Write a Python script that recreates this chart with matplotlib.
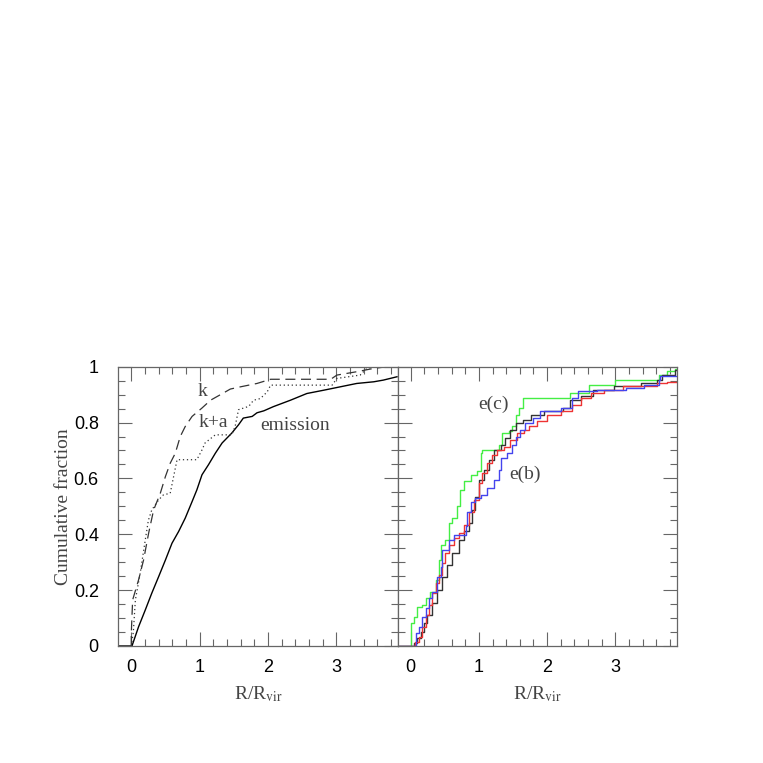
import matplotlib
matplotlib.use("Agg")
import matplotlib.pyplot as plt
from matplotlib.ticker import MultipleLocator, FixedLocator

# ---------------- data ----------------
# Left panel (cumulative fractions vs R/Rvir)
emis_x = [-0.19, 0.0, 0.01, 0.107, 0.205, 0.30, 0.40, 0.50, 0.596, 0.693, 0.79, 0.89, 0.96, 1.035,
          1.13, 1.23, 1.33, 1.47, 1.57, 1.64, 1.77, 1.84, 1.94, 2.08, 2.33, 2.57, 2.82, 3.06, 3.30,
          3.55, 3.69, 3.79, 3.89]
emis_y = [0, 0, 0.0, 0.069, 0.129, 0.189, 0.248, 0.308, 0.368, 0.41, 0.458, 0.517, 0.559, 0.613,
          0.649, 0.69, 0.727, 0.762, 0.792, 0.816, 0.822, 0.835, 0.842, 0.857, 0.88, 0.904, 0.916,
          0.928, 0.94, 0.946, 0.952, 0.958, 0.964]

k_x = [0.0, 0.0, 0.02, 0.107, 0.18, 0.254, 0.327, 0.425, 0.50, 0.571, 0.644, 0.717, 0.79, 0.89,
       1.035, 1.16, 1.35, 1.45, 1.6, 1.84, 2.04, 2.92, 3.01, 3.3, 3.55, 3.75, 3.9]
k_y = [0.0, 0.045, 0.165, 0.237, 0.308, 0.404, 0.487, 0.547, 0.607, 0.655, 0.69, 0.75, 0.786, 0.822,
       0.852, 0.88, 0.906, 0.92, 0.928, 0.94, 0.955, 0.955, 0.97, 0.982, 0.994, 1.0, 1.0]

ka_x = [0.0, 0.03, 0.06, 0.13, 0.205, 0.25, 0.30, 0.40, 0.47, 0.57, 0.62, 0.67, 0.96, 1.035, 1.08,
        1.23, 1.47, 1.52, 1.57, 1.72, 1.79, 1.89, 1.99, 2.04, 2.94, 3.01, 3.35, 3.45, 3.6, 3.9]
ka_y = [0, 0.05, 0.165, 0.26, 0.38, 0.45, 0.487, 0.523, 0.541, 0.547, 0.607, 0.667, 0.667, 0.702,
        0.727, 0.756, 0.756, 0.786, 0.846, 0.858, 0.88, 0.886, 0.91, 0.934, 0.934, 0.958, 0.97,
        0.994, 1.0, 1.0]

# Right panel (step curves)
green_x = [-0.19, 0.01, 0.05, 0.1, 0.17, 0.22, 0.29, 0.366, 0.415, 0.44, 0.51, 0.56, 0.61, 0.68,
           0.73, 0.78, 0.88, 0.976, 1.025, 1.05, 1.29, 1.34, 1.44, 1.49, 1.54, 1.59, 1.64, 2.34,
           2.61, 3.0, 3.64, 3.76, 3.88, 3.9]
green_y = [0, 0.081, 0.105, 0.141, 0.147, 0.171, 0.195, 0.237, 0.308, 0.362, 0.38, 0.44, 0.458, 0.5,
           0.559, 0.589, 0.613, 0.625, 0.69, 0.70, 0.72, 0.762, 0.77, 0.786, 0.828, 0.852, 0.888,
           0.906, 0.935, 0.953, 0.971, 0.983, 0.99, 0.99]

black_x = [-0.19, 0.05, 0.1, 0.146, 0.195, 0.244, 0.317, 0.39, 0.464, 0.537, 0.61, 0.707, 0.78,
           0.854, 0.9, 0.95, 1.0, 1.07, 1.146, 1.22, 1.32, 1.39, 1.46, 1.54, 1.64, 1.76, 1.95, 2.24,
           2.34, 2.49, 2.68, 2.98, 3.37, 3.61, 3.69, 3.88, 3.9]
black_y = [0, 0.01, 0.027, 0.051, 0.081, 0.111, 0.153, 0.2, 0.248, 0.29, 0.332, 0.38, 0.41, 0.44,
           0.487, 0.535, 0.595, 0.63, 0.667, 0.703, 0.72, 0.744, 0.774, 0.798, 0.81, 0.828, 0.84,
           0.852, 0.882, 0.894, 0.918, 0.93, 0.942, 0.953, 0.971, 0.989, 0.989]

red_x = [-0.19, 0.07, 0.12, 0.17, 0.22, 0.27, 0.317, 0.366, 0.415, 0.464, 0.51, 0.56, 0.634, 0.707,
         0.78, 0.85, 0.927, 1.0, 1.05, 1.12, 1.196, 1.27, 1.37, 1.46, 1.56, 1.66, 1.73, 1.85, 2.0,
         2.2, 2.37, 2.49, 2.64, 2.83, 3.12, 3.61, 3.76, 3.9]
red_y = [0, 0.015, 0.033, 0.069, 0.111, 0.147, 0.189, 0.225, 0.254, 0.296, 0.332, 0.362, 0.386,
         0.404, 0.434, 0.48, 0.523, 0.583, 0.619, 0.655, 0.685, 0.703, 0.714, 0.738, 0.762, 0.774,
         0.786, 0.804, 0.828, 0.84, 0.864, 0.888, 0.906, 0.918, 0.93, 0.942, 0.947, 0.947]

blue_x = [-0.19, 0.073, 0.12, 0.17, 0.22, 0.27, 0.317, 0.39, 0.44, 0.464, 0.56, 0.634, 0.805, 0.83,
          0.88, 0.95, 1.025, 1.12, 1.22, 1.29, 1.32, 1.415, 1.49, 1.54, 1.61, 1.68, 1.8, 1.9, 2.2,
          2.37, 2.46, 2.73, 3.15, 3.42, 3.64, 3.66, 3.9]
blue_y = [0, 0.045, 0.069, 0.105, 0.135, 0.171, 0.195, 0.248, 0.284, 0.344, 0.38, 0.398, 0.428,
          0.481, 0.517, 0.529, 0.541, 0.565, 0.595, 0.631, 0.673, 0.69, 0.72, 0.75, 0.774, 0.798,
          0.816, 0.84, 0.852, 0.888, 0.912, 0.918, 0.923, 0.935, 0.953, 0.965, 0.965]

xticks = [0, 1, 2, 3]
yticks = [0, 0.2, 0.4, 0.6, 0.8, 1]
ytick_labels = ["0", "0.2", "0.4", "0.6", "0.8", "1"]

# ---------------- figure ----------------
plt.rcParams["mathtext.fontset"] = "stix"
serif = "Liberation Serif"
sans = "Liberation Sans"
frame_col = "#666666"
text_col = "#444444"

fig = plt.figure(figsize=(7.63, 7.63), dpi=100)
axL = fig.add_axes([118.3 / 763, 1 - 646 / 763, 279.4 / 763, 279.3 / 763])
axR = fig.add_axes([397.7 / 763, 1 - 646 / 763, 279.0 / 763, 279.3 / 763])

for ax in (axL, axR):
    ax.set_xlim(-0.19, 3.9)
    ax.set_ylim(0, 1)
    ax.xaxis.set_major_locator(FixedLocator(xticks))
    ax.xaxis.set_minor_locator(MultipleLocator(0.2))
    ax.yaxis.set_major_locator(FixedLocator(yticks))
    ax.yaxis.set_minor_locator(MultipleLocator(0.05))
    ax.tick_params(which="both", direction="in", top=True, right=True, color=frame_col, width=0.8)
    ax.tick_params(which="major", length=10)
    ax.tick_params(which="minor", length=5)
    ax.tick_params(axis="x", labelsize=13, pad=9, labelcolor="black")
    ax.tick_params(axis="y", labelsize=13, pad=14, labelcolor="black")
    for lab in ax.get_xticklabels() + ax.get_yticklabels():
        lab.set_family(sans)
    for s in ax.spines.values():
        s.set_color(frame_col)
        s.set_linewidth(0.9)
    ax.set_xlabel(r"R/R$_{\rm vir}$", family=serif, fontsize=14, color=text_col, labelpad=6)

axL.set_yticks(yticks)
axL.set_yticklabels(ytick_labels, family=sans)
axL.set_ylabel("Cumulative fraction", family=serif, fontsize=14, color=text_col, labelpad=1)
axR.tick_params(axis="y", labelleft=False)

# Left panel curves
axL.plot(emis_x, emis_y, color="black", lw=1.0)
axL.plot(k_x, k_y, color="#333333", lw=0.9, dashes=(8, 4.5))
axL.plot(ka_x, ka_y, color="#333333", lw=0.9, dashes=(1, 2.2))

axL.text(1.05, 0.91, "k", family=serif, fontsize=14, color=text_col, ha="center", va="center")
axL.text(1.2, 0.80, "k+a", family=serif, fontsize=14, color=text_col, ha="center", va="center")
axL.text(2.4, 0.79, "emission", family=serif, fontsize=14, color=text_col, ha="center", va="center")

# Right panel curves
axR.plot(green_x, green_y, color="#44ee44", lw=1.0, drawstyle="steps-post")
axR.plot(black_x, black_y, color="#333333", lw=1.0, drawstyle="steps-post")
axR.plot(red_x, red_y, color="#ee3333", lw=1.0, drawstyle="steps-post")
axR.plot(blue_x, blue_y, color="#4444ee", lw=1.0, drawstyle="steps-post")

axR.text(1.21, 0.864, "e(c)", family=serif, fontsize=14, color=text_col, ha="center", va="center")
axR.text(1.67, 0.613, "e(b)", family=serif, fontsize=14, color=text_col, ha="center", va="center")

fig.savefig("out.png", dpi=100)
